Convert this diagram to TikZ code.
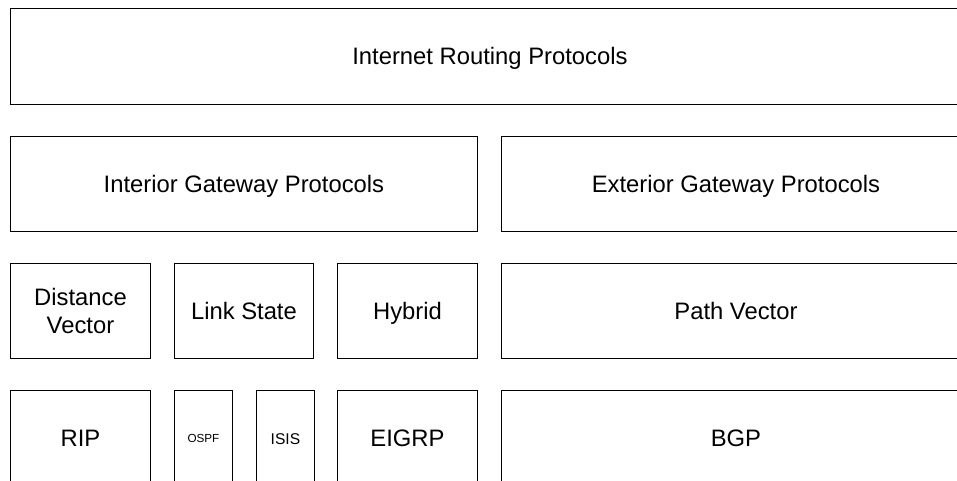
\documentclass[tikz,border=0pt]{standalone}
\usepackage{fontspec}
\setmainfont{Liberation Sans}
\tikzset{
    x=1pt, y=-1pt,
    box/.style={draw, line width=0.9pt, rectangle, inner sep=0pt,
        anchor=north west, align=center,
        font=\fontsize{23.8}{28.4}\selectfont},
    capmid/.style={text height=#1, text depth=0pt},
    capmid/.default=17pt,
    wide/.style={minimum width=140pt},
    tall/.style={minimum height=95pt},
}
\begin{document}
\begin{tikzpicture}
    \useasboundingbox (0,0) rectangle (957,481);
    \clip (0,0) rectangle (957,481);
    \fill[white] (0,0) rectangle (957,481);

    % top level
    \node[box, capmid, minimum width=959pt, minimum height=96pt] (irp) at (10,8) {Internet Routing Protocols};

    % gateway protocols
    \node[box, capmid, tall, minimum width=467pt] (igp) at (10,136) {Interior Gateway Protocols};
    \node[box, capmid, tall, minimum width=469pt] (egp) at (501,136) {Exterior Gateway Protocols};

    % protocol families
    \node[box, tall, wide] (dv) at (10,263) {Distance\\Vector};
    \node[box, capmid, tall, wide, minimum width=139pt] (ls) at (174,263) {Link State};
    \node[box, capmid, tall, wide] (hyb) at (337,263) {Hybrid};
    \node[box, capmid, tall, minimum width=469pt] (pv) at (501,263) {Path Vector};

    % protocols
    \node[box, capmid, tall, wide, minimum height=96pt] (rip) at (10,390) {RIP};
    \node[box, capmid=8.4pt, minimum width=58pt, minimum height=96pt, font=\fontsize{11.7}{14}\selectfont] (ospf) at (174,390) {OSPF};
    \node[box, capmid=11.2pt, minimum width=58pt, minimum height=96pt, font=\fontsize{15.6}{19}\selectfont] (isis) at (256,390) {ISIS};
    \node[box, capmid, wide, minimum height=96pt] (eigrp) at (337,390) {EIGRP};
    \node[box, capmid, minimum width=469pt, minimum height=96pt] (bgp) at (501,390) {BGP};
\end{tikzpicture}
\end{document}
